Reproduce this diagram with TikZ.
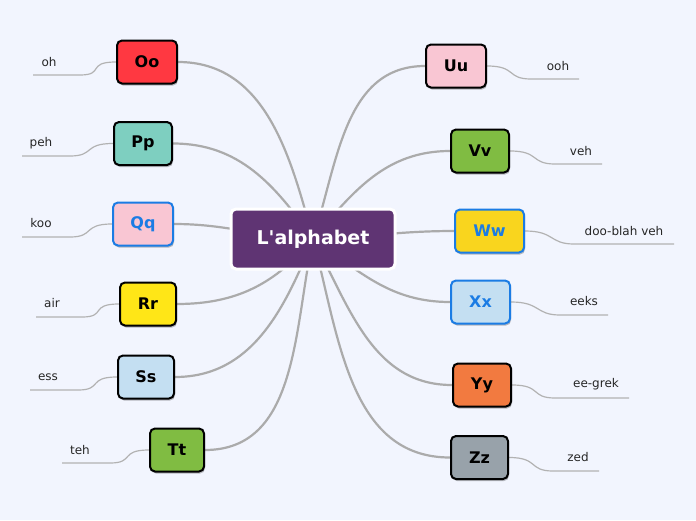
\documentclass[tikz,border=0pt]{standalone}
\usepackage{fontspec}
\setmainfont{DejaVu Sans}
\usetikzlibrary{shadows}
\definecolor{bgcol}{HTML}{F2F5FE}
\definecolor{rootcol}{HTML}{5F3473}
\definecolor{linkcol}{HTML}{ABABAB}
\definecolor{twigcol}{HTML}{B2B2B2}
\definecolor{redcol}{HTML}{FF3841}
\definecolor{tealcol}{HTML}{7ECFC0}
\definecolor{pinkcol}{HTML}{F9C6D3}
\definecolor{yellowcol}{HTML}{FFE617}
\definecolor{skycol}{HTML}{C4DFF2}
\definecolor{greencol}{HTML}{80BC42}
\definecolor{goldcol}{HTML}{F9D51E}
\definecolor{orangecol}{HTML}{F27A40}
\definecolor{greycol}{HTML}{98A2AA}
\definecolor{bluecol}{HTML}{1B7CE4}
\pgfdeclarelayer{back}
\pgfdeclarelayer{links}
\pgfsetlayers{back,links,main}
\begin{document}
\begin{tikzpicture}[
    x=1pt, y=-1pt,
    root/.style={rectangle, rounded corners=5pt, draw=white, line width=3pt, fill=rootcol, text=white,
        minimum width=164pt, minimum height=60pt, font=\fontsize{19}{22}\selectfont\bfseries},
    letter/.style={rectangle, rounded corners=5pt, draw=black, line width=2pt, minimum height=43pt,
        font=\fontsize{16}{19}\selectfont\bfseries,
        drop shadow={shadow xshift=1pt, shadow yshift=-2pt, opacity=0.25, fill=black}},
    blueletter/.style={letter, draw=bluecol, text=bluecol},
    leaf/.style={font=\fontsize{12}{14}\selectfont, text=black!85},
    link/.style={draw=linkcol, line width=2.2pt},
    twig/.style={draw=twigcol, line width=1.2pt}
]
% Background
\begin{pgfonlayer}{back}
\fill[bgcol] (0,0) rectangle (696,520);
\end{pgfonlayer}

% Root
\node[root] (root) at (313,239) {L\textquotesingle alphabet};

% Left letters
\node[letter, fill=redcol, minimum width=60pt] (Oo) at (147,62) {Oo};
\node[letter, fill=tealcol, minimum width=58pt] (Pp) at (143,143.5) {Pp};
\node[blueletter, fill=pinkcol, minimum width=60pt] (Qq) at (143,224) {Qq};
\node[letter, fill=yellowcol, minimum width=56pt] (Rr) at (148,304) {Rr};
\node[letter, fill=skycol, minimum width=56pt] (Ss) at (146,377) {Ss};
\node[letter, fill=greencol, minimum width=54pt] (Tt) at (177,450) {Tt};

% Right letters
\node[letter, fill=pinkcol, minimum width=60pt] (Uu) at (456,66) {Uu};
\node[letter, fill=greencol, minimum width=58pt] (Vv) at (480,151) {Vv};
\node[blueletter, fill=goldcol, minimum width=69pt] (Ww) at (489.5,231) {Ww};
\node[blueletter, fill=skycol, minimum width=59pt] (Xx) at (480.5,302) {Xx};
\node[letter, fill=orangecol, minimum width=58pt] (Yy) at (482,385) {Yy};
\node[letter, fill=greycol, minimum width=57pt] (Zz) at (479.5,457.5) {Zz};

% Left sounds
\node[leaf] (oh) at (49,62) {oh};
\coordinate (oh-a) at (33,75);
\coordinate (oh-b) at (80,75);
\node[leaf] (peh) at (41,143) {peh};
\coordinate (peh-a) at (22,156);
\coordinate (peh-b) at (70,156);
\node[leaf] (koo) at (41,223) {koo};
\coordinate (koo-a) at (22,237);
\coordinate (koo-b) at (70,237);
\node[leaf] (air) at (52,303) {air};
\coordinate (air-a) at (36,317);
\coordinate (air-b) at (82,317);
\node[leaf] (ess) at (48,377) {ess};
\coordinate (ess-a) at (30,390);
\coordinate (ess-b) at (78,390);
\node[leaf] (teh) at (80,450) {teh};
\coordinate (teh-a) at (62,463);
\coordinate (teh-b) at (110,463);

% Right sounds
\node[leaf] (ooh) at (558,66) {ooh};
\coordinate (ooh-a) at (531,79);
\coordinate (ooh-b) at (579,79);
\node[leaf] (veh) at (581,151) {veh};
\coordinate (veh-a) at (555,164);
\coordinate (veh-b) at (602,164);
\node[leaf] (doo) at (624,231) {doo-blah veh};
\coordinate (doo-a) at (574,244);
\coordinate (doo-b) at (674,244);
\node[leaf] (eeks) at (584,301) {eeks};
\coordinate (eeks-a) at (560,315);
\coordinate (eeks-b) at (608,315);
\node[leaf] (grek) at (596,384) {ee-grek};
\coordinate (grek-a) at (555,398);
\coordinate (grek-b) at (629,398);
\node[leaf] (zed) at (578,457) {zed};
\coordinate (zed-a) at (553,471);
\coordinate (zed-b) at (599,471);

% Links
\begin{pgfonlayer}{links}
\draw[link] (root.center) to[out=105, in=0] (Oo.east);
\draw[link] (root.center) to[out=125, in=0] (Pp.east);
\draw[link] (root.center) to[out=178, in=0] (Qq.east);
\draw[link] (root.center) to[out=230, in=0] (Rr.east);
\draw[link] (root.center) to[out=248, in=0] (Ss.east);
\draw[link] (root.center) to[out=258, in=0] (Tt.east);
\draw[link] (root.center) to[out=72, in=180] (Uu.west);
\draw[link] (root.center) to[out=50, in=180] (Vv.west);
\draw[link] (root.center) to[out=2, in=180] (Ww.west);
\draw[link] (root.center) to[out=-35, in=180] (Xx.west);
\draw[link] (root.center) to[out=-62, in=180] (Yy.west);
\draw[link] (root.center) to[out=-75, in=180] (Zz.west);

\draw[twig] (Oo.west) .. controls +(-30,0) and +(25,0) .. (oh-b) -- (oh-a);
\draw[twig] (Pp.west) .. controls +(-30,0) and +(25,0) .. (peh-b) -- (peh-a);
\draw[twig] (Qq.west) .. controls +(-30,0) and +(25,0) .. (koo-b) -- (koo-a);
\draw[twig] (Rr.west) .. controls +(-30,0) and +(25,0) .. (air-b) -- (air-a);
\draw[twig] (Ss.west) .. controls +(-30,0) and +(25,0) .. (ess-b) -- (ess-a);
\draw[twig] (Tt.west) .. controls +(-30,0) and +(25,0) .. (teh-b) -- (teh-a);
\draw[twig] (Uu.east) .. controls +(30,0) and +(-25,0) .. (ooh-a) -- (ooh-b);
\draw[twig] (Vv.east) .. controls +(30,0) and +(-25,0) .. (veh-a) -- (veh-b);
\draw[twig] (Ww.east) .. controls +(30,0) and +(-25,0) .. (doo-a) -- (doo-b);
\draw[twig] (Xx.east) .. controls +(30,0) and +(-25,0) .. (eeks-a) -- (eeks-b);
\draw[twig] (Yy.east) .. controls +(30,0) and +(-25,0) .. (grek-a) -- (grek-b);
\draw[twig] (Zz.east) .. controls +(30,0) and +(-25,0) .. (zed-a) -- (zed-b);
\end{pgfonlayer}
\end{tikzpicture}
\end{document}
